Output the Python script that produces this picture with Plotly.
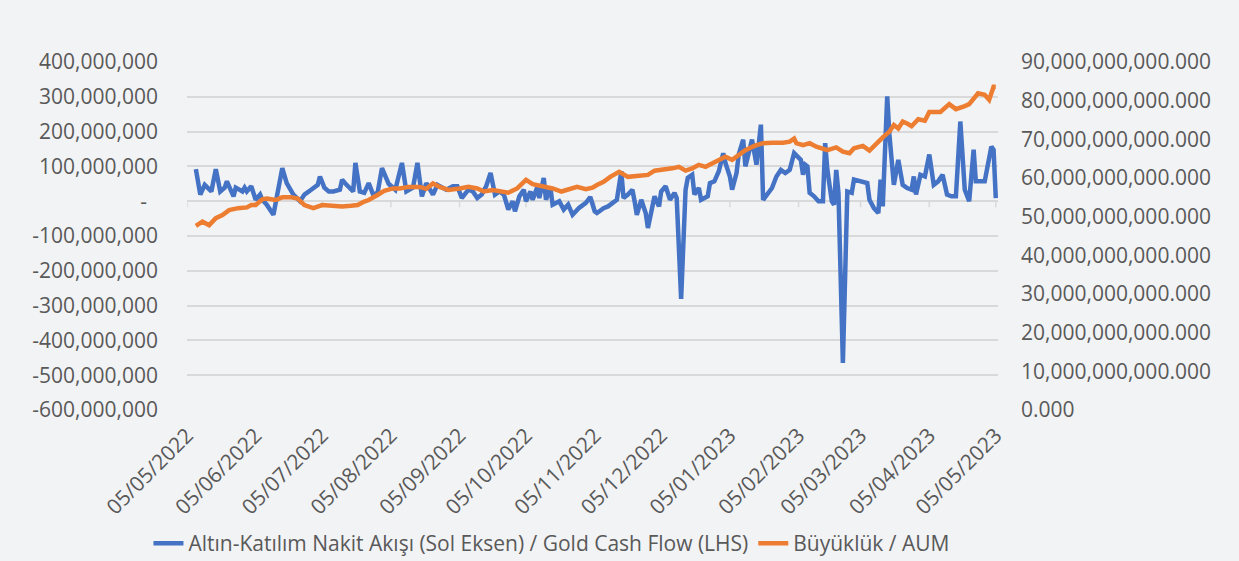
import plotly.graph_objects as go

# Gold cash flow (left axis), TL
flow_dates = [
    "2022-05-09", "2022-05-11", "2022-05-13", "2022-05-16", "2022-05-18", "2022-05-20", "2022-05-22", "2022-05-23",
    "2022-05-26", "2022-05-27", "2022-05-30", "2022-05-31", "2022-06-01", "2022-06-03", "2022-06-05", "2022-06-07",
    "2022-06-08", "2022-06-10", "2022-06-13", "2022-06-15", "2022-06-17", "2022-06-19", "2022-06-21", "2022-06-22",
    "2022-06-25", "2022-06-27", "2022-06-29", "2022-07-01", "2022-07-03", "2022-07-04", "2022-07-06", "2022-07-08",
    "2022-07-10", "2022-07-13", "2022-07-14", "2022-07-16", "2022-07-19", "2022-07-20", "2022-07-22", "2022-07-24",
    "2022-07-26", "2022-07-28", "2022-07-30", "2022-08-01", "2022-08-04", "2022-08-07", "2022-08-10", "2022-08-12",
    "2022-08-15", "2022-08-17", "2022-08-19", "2022-08-21", "2022-08-24", "2022-08-26", "2022-08-28", "2022-08-30",
    "2022-09-02", "2022-09-04", "2022-09-06", "2022-09-09", "2022-09-11", "2022-09-13", "2022-09-15", "2022-09-17",
    "2022-09-19", "2022-09-21", "2022-09-23", "2022-09-25", "2022-09-27", "2022-09-29", "2022-09-30", "2022-10-02",
    "2022-10-04", "2022-10-05", "2022-10-07", "2022-10-08", "2022-10-10", "2022-10-11", "2022-10-13", "2022-10-14",
    "2022-10-16", "2022-10-17", "2022-10-20", "2022-10-22", "2022-10-24", "2022-10-26", "2022-10-29", "2022-11-01",
    "2022-11-03", "2022-11-05", "2022-11-06", "2022-11-09", "2022-11-11", "2022-11-13", "2022-11-15", "2022-11-17",
    "2022-11-18", "2022-11-20", "2022-11-22", "2022-11-23", "2022-11-24", "2022-11-26", "2022-11-28", "2022-11-29",
    "2022-12-01", "2022-12-02", "2022-12-04", "2022-12-05", "2022-12-07", "2022-12-09", "2022-12-11", "2022-12-12",
    "2022-12-14", "2022-12-16", "2022-12-17", "2022-12-19", "2022-12-20", "2022-12-22", "2022-12-23", "2022-12-26",
    "2022-12-27", "2022-12-29", "2022-12-31", "2023-01-02", "2023-01-03", "2023-01-05", "2023-01-06", "2023-01-08",
    "2023-01-09", "2023-01-11", "2023-01-12", "2023-01-14", "2023-01-15", "2023-01-17", "2023-01-19", "2023-01-20",
    "2023-01-22", "2023-01-24", "2023-01-26", "2023-01-28", "2023-01-30", "2023-02-01", "2023-02-03", "2023-02-04",
    "2023-02-06", "2023-02-07", "2023-02-08", "2023-02-09", "2023-02-10", "2023-02-12", "2023-02-14", "2023-02-16",
    "2023-02-17", "2023-02-18", "2023-02-20", "2023-02-21", "2023-02-22", "2023-02-23", "2023-02-25", "2023-02-27",
    "2023-03-01", "2023-03-02", "2023-03-05", "2023-03-08", "2023-03-09", "2023-03-11", "2023-03-13", "2023-03-14",
    "2023-03-15", "2023-03-17", "2023-03-18", "2023-03-20", "2023-03-22", "2023-03-24", "2023-03-26", "2023-03-28",
    "2023-03-29", "2023-03-30", "2023-04-01", "2023-04-03", "2023-04-05", "2023-04-07", "2023-04-09", "2023-04-11",
    "2023-04-13", "2023-04-15", "2023-04-17", "2023-04-19", "2023-04-21", "2023-04-23", "2023-04-25", "2023-04-26",
    "2023-04-28", "2023-04-30", "2023-05-03", "2023-05-04", "2023-05-05",
]
flow_millions = [
    92, 19, 47, 28, 92, 28, 39, 57,
    14, 39, 28, 39, 28, 43, 4, 19,
    4, -10, -39, 24, 95, 52, 33, 19,
    0, 19, 28, 39, 47, 71, 39, 28,
    28, 33, 62, 47, 28, 110, 28, 24,
    52, 19, 24, 95, 50, 33, 110, 28,
    39, 110, 14, 52, 19, 47, 39, 33,
    43, 43, 9, 33, 28, 9, 19, 43,
    81, 19, 28, 19, -24, 0, -29, 14,
    33, 0, 28, 4, 39, 9, 67, 4,
    39, -10, 0, -24, -10, -39, -19, -5,
    12, -29, -34, -20, -15, -5, 4, 86,
    9, 19, 33, 0, -39, 4, -34, -77,
    -24, 14, -15, 28, 43, 4, 24, 9,
    -281, 33, 67, 76, 19, 38, 4, 14,
    52, 57, 86, 138, 110, 71, 33, 81,
    134, 177, 100, 148, 177, 105, 220, 4,
    24, 38, 71, 90, 81, 90, 138, 130,
    119, 76, 105, 100, 24, 14, 0, 0,
    167, 90, 0, -10, 90, 24, -465, 28,
    24, 62, 57, 52, 4, -20, -34, 62,
    -15, 301, 191, 47, 119, 47, 38, 33,
    71, 19, 76, 71, 134, 47, 57, 76,
    19, 14, 14, 229, 33, 0, 148, 57,
    57, 57, 157, 148, 9,
]

# Fund size (right axis), TL
aum_dates = [
    "2022-05-09", "2022-05-12", "2022-05-15", "2022-05-18", "2022-05-21", "2022-05-24", "2022-05-28", "2022-06-01",
    "2022-06-03", "2022-06-05", "2022-06-08", "2022-06-10", "2022-06-14", "2022-06-17", "2022-06-21", "2022-06-24",
    "2022-06-27", "2022-07-01", "2022-07-05", "2022-07-09", "2022-07-14", "2022-07-18", "2022-07-21", "2022-07-24",
    "2022-07-26", "2022-07-30", "2022-08-02", "2022-08-06", "2022-08-09", "2022-08-13", "2022-08-18", "2022-08-21",
    "2022-08-24", "2022-08-27", "2022-08-31", "2022-09-05", "2022-09-09", "2022-09-13", "2022-09-16", "2022-09-20",
    "2022-09-24", "2022-09-27", "2022-10-01", "2022-10-05", "2022-10-08", "2022-10-13", "2022-10-17", "2022-10-21",
    "2022-10-25", "2022-10-28", "2022-11-01", "2022-11-04", "2022-11-06", "2022-11-09", "2022-11-12", "2022-11-16",
    "2022-11-20", "2022-11-25", "2022-11-29", "2022-12-02", "2022-12-06", "2022-12-10", "2022-12-13", "2022-12-16",
    "2022-12-19", "2022-12-22", "2022-12-25", "2022-12-28", "2022-12-31", "2023-01-03", "2023-01-06", "2023-01-09",
    "2023-01-12", "2023-01-16", "2023-01-20", "2023-01-24", "2023-01-29", "2023-02-01", "2023-02-03", "2023-02-04",
    "2023-02-07", "2023-02-10", "2023-02-13", "2023-02-18", "2023-02-22", "2023-02-25", "2023-02-28", "2023-03-02",
    "2023-03-06", "2023-03-09", "2023-03-12", "2023-03-15", "2023-03-18", "2023-03-20", "2023-03-22", "2023-03-24",
    "2023-03-26", "2023-03-28", "2023-03-31", "2023-04-03", "2023-04-05", "2023-04-10", "2023-04-14", "2023-04-17",
    "2023-04-21", "2023-04-23", "2023-04-27", "2023-04-30", "2023-05-02", "2023-05-04", "2023-05-05",
]
aum_billions = [
    47.6, 48.7, 47.8, 49.6, 50.4, 51.7, 52.2, 52.4,
    53.0, 53.0, 54.5, 54.7, 54.3, 55.0, 55.0, 54.7,
    53.0, 52.2, 53.0, 52.8, 52.6, 52.8, 53.0, 53.9,
    54.3, 55.6, 56.7, 57.3, 57.3, 57.7, 57.7, 57.2,
    58.6, 57.7, 56.9, 57.3, 57.7, 57.3, 56.5, 56.9,
    56.5, 56.2, 57.3, 59.5, 58.4, 57.9, 57.3, 56.5,
    57.3, 57.7, 57.1, 57.5, 58.2, 59.0, 60.3, 61.6,
    60.3, 60.5, 60.8, 61.9, 62.1, 62.5, 62.9, 61.9,
    62.5, 63.4, 62.9, 63.8, 64.5, 65.5, 64.7, 65.9,
    67.2, 68.3, 69.0, 69.1, 69.1, 69.4, 70.2, 69.0,
    68.5, 69.0, 68.1, 67.2, 67.9, 66.8, 66.4, 67.7,
    68.3, 67.1, 69.0, 70.5, 72.0, 73.7, 72.8, 74.6,
    74.1, 73.4, 75.2, 74.8, 77.1, 77.1, 79.1, 77.8,
    78.6, 79.1, 81.9, 81.5, 80.2, 83.6, 83.6,
]

x_tick_dates = [
    "2022-05-05", "2022-06-05", "2022-07-05", "2022-08-05", "2022-09-05", "2022-10-05", "2022-11-05",
    "2022-12-05", "2023-01-05", "2023-02-05", "2023-03-05", "2023-04-05", "2023-05-05",
]
x_tick_labels = [
    "05/05/2022", "05/06/2022", "05/07/2022", "05/08/2022", "05/09/2022", "05/10/2022", "05/11/2022",
    "05/12/2022", "05/01/2023", "05/02/2023", "05/03/2023", "05/04/2023", "05/05/2023",
]
left_ticks = [400e6, 300e6, 200e6, 100e6, 0, -100e6, -200e6, -300e6, -400e6, -500e6, -600e6]
left_labels = ["400,000,000", "300,000,000", "200,000,000", "100,000,000", "-\u00a0\u00a0", "-100,000,000",
               "-200,000,000", "-300,000,000", "-400,000,000", "-500,000,000", "-600,000,000"]

name_flow = "Altın-Katılım Nakit Akışı (Sol Eksen) / Gold Cash Flow (LHS)"
name_aum = "Büyüklük / AUM"

flow_values = [v * 1e6 for v in flow_millions]
aum_values = [v * 1e9 for v in aum_billions]

font_family = "Open Sans"
txt = "#595959"
grid = "#d9d9d9"
bg = "#f2f3f5"
fs = 21

fig = go.Figure()
fig.add_trace(go.Scatter(x=flow_dates, y=flow_values, mode="lines", name=name_flow,
                         line=dict(color="#4472C4", width=4.5), yaxis="y"))
fig.add_trace(go.Scatter(x=aum_dates, y=aum_values, mode="lines", name=name_aum,
                         line=dict(color="#ED7D31", width=4.5), yaxis="y2"))

# small outside tick marks hanging below the zero (category) axis line
tick_shapes = [
    dict(type="line", xref="x", yref="y", x0=d, x1=d, ysizemode="pixel", yanchor=0, y0=0, y1=-6,
         line=dict(color=grid, width=1.5), layer="below")
    for d in x_tick_dates
]

fig.update_layout(
    width=1239, height=561,
    margin=dict(l=187, r=241, t=62, b=151, autoexpand=False),
    paper_bgcolor=bg, plot_bgcolor=bg,
    font=dict(family=font_family, color=txt, size=fs),
    showlegend=True,
    legend=dict(orientation="h", x=0.45, xanchor="center", y=-0.384, yanchor="middle",
                font=dict(size=fs, color=txt), bgcolor="rgba(0,0,0,0)", itemwidth=30,
                tracegroupgap=0),
    xaxis=dict(type="date", range=["2022-05-05", "2023-05-06"], tickvals=x_tick_dates,
               ticktext=x_tick_labels, tickangle=-45, showgrid=False, zeroline=False,
               showline=False, ticks="", ticklabelstandoff=8, automargin=False,
               tickfont=dict(size=fs, color=txt)),
    yaxis=dict(range=[-600e6, 400e6], tickvals=left_ticks, ticktext=left_labels,
               showgrid=True, gridcolor=grid, gridwidth=1.5, zeroline=True, zerolinecolor=grid,
               zerolinewidth=1.5, showline=False, ticks="", ticklabelstandoff=28, automargin=False,
               tickfont=dict(size=fs, color=txt)),
    yaxis2=dict(range=[0, 90e9], dtick=10e9, tickformat=",.3f", overlaying="y", side="right",
                showgrid=False, zeroline=False, showline=False, ticks="", ticklabelstandoff=22,
                automargin=False, tickfont=dict(size=fs, color=txt)),
    shapes=tick_shapes,
)

fig.write_html("out.html", config={"displayModeBar": False},
               post_script="document.body.style.margin='0px';")
